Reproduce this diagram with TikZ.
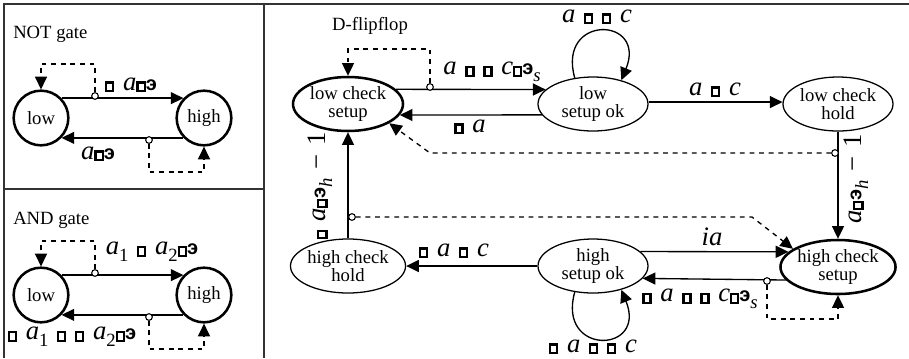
\documentclass[tikz,border=0pt]{standalone}
\usepackage{fontspec}
\setmainfont{Liberation Serif}
\newfontfamily\epsfont{Liberation Sans}
\usetikzlibrary{arrows.meta,shapes.geometric}
% hollow box glyph and reversed epsilon used in the guard labels
\newcommand\gbx{{\fboxsep=0pt\fboxrule=1.7pt\fbox{\rule{0pt}{4.9pt}\hspace{3.6pt}}}}
\newcommand\eps{{\epsfont\bfseries\fontsize{15}{15}\selectfont э}}
\newcommand\iv[1]{\textit{#1}}
\newcommand\sub[1]{\raisebox{-5pt}{\fontsize{14}{14}\selectfont #1}}
\newcommand\gap{\hspace{6.5pt}}
\tikzset{
  frame/.style={line width=1.1pt, draw=black!80},
  state/.style={circle, draw, line width=1.9pt, minimum size=41pt, inner sep=0pt,
    font=\fontsize{14}{13}\selectfont},
  thinst/.style={ellipse, draw, line width=0.95pt, minimum width=82.5pt, minimum height=40.5pt,
    inner sep=0pt, align=center, font=\fontsize{14}{13}\selectfont},
  thickst/.style={thinst, line width=1.9pt},
  tr/.style={line width=1pt, -{Triangle[length=9.5pt,width=9pt]}},
  guard/.style={tr, dash pattern=on 3.6pt off 3.6pt},
  probe/.style={circle, draw, fill=white, line width=0.8pt, minimum size=5pt, inner sep=0pt},
  lab/.style={inner sep=0pt, font=\fontsize{20}{20}\selectfont},
  title/.style={inner sep=0pt, font=\fontsize{14}{14}\selectfont},
}
\begin{document}
\begin{tikzpicture}[x=0.75pt,y=-0.75pt]
\useasboundingbox (0,0) rectangle (909,358);
% panel frames
\draw[frame] (4,358) -- (4,4) -- (909,4);
\draw[frame] (264,4) -- (264,358);
\draw[frame] (4,189) -- (264,189);

% ---------- NOT gate ----------
\node[title, anchor=west] (tnot) at (13,34) {NOT gate};
\node[state] (nlow) at (41,118) {low};
\node[state] (nhigh) at (204,118) {high};
\draw[tr] (nlow.44) -- (nhigh.136);
\draw[tr] (nhigh.-136) -- (nlow.-44);
\node[probe] (np1) at (95,96) {};
\node[probe] (np2) at (149,140) {};
\draw[guard] (np1.north) -- (np1.north |- 0,64) -| (nlow.north);
\draw[guard] (np2.south) -- (np2.south |- 0,172) -| (nhigh.south);
\node[lab] (nl1) at (131,85) {\gbx\gap\iv{a}\gbx\eps};
\node[lab] (nl2) at (98,154) {\iv{a}\gbx\eps};

% ---------- AND gate ----------
\node[title, anchor=west] (tand) at (13,220) {AND gate};
\node[state] (alow) at (41,295) {low};
\node[state] (ahigh) at (204,295) {high};
\draw[tr] (alow.44) -- (ahigh.136);
\draw[tr] (ahigh.-136) -- (alow.-44);
\node[probe] (ap1) at (95,273) {};
\node[probe] (ap2) at (149,317) {};
\draw[guard] (ap1.north) -- (ap1.north |- 0,241) -| (alow.north);
\draw[guard] (ap2.south) -- (ap2.south |- 0,349) -| (ahigh.south);
\node[lab] (al1) at (152,252) {\iv{a}\sub{1}\gap\gbx\gap\iv{a}\sub{2}\gbx\eps};
\node[lab] (al2) at (72,337) {\gbx\gap\iv{a}\sub{1}\gap\gbx\gap\gbx\gap\iv{a}\sub{2}\gbx\eps};

% ---------- D-flipflop ----------
\node[title] (tdff) at (370,26) {D-flipflop};
\node[thickst] (lcs) at (348,104) {low check\\setup};
\node[thinst] (lso) at (593,104) {low\\setup ok};
\node[thinst] (lch) at (838,104) {low check\\hold};
\node[thinst] (hch) at (348,266) {high check\\hold};
\node[thinst] (hso) at (593,266) {high\\setup ok};
\node[thickst] (hcs) at (838,267) {high check\\setup};

\draw[tr] (lcs.17) -- (lso.163);
\draw[tr] (lso.-168) -- (lcs.-12);
\draw[tr] (lso.2) -- (lch.178);
\draw[tr] (lch.south) -- (hcs.north);
\draw[tr] (hch.north) -- (lcs.south);
\draw[tr] (hso.17) -- (hcs.163);
\draw[tr] (hcs.-166) -- (hso.-14);
\draw[tr] (hso.west) -- (hch.east);
\draw[tr] (lso.125) .. controls +(-18,-64) and +(26,-64) .. (lso.40);
\draw[tr] (hso.-125) .. controls +(-18,64) and +(26,64) .. (hso.-40);

\node[probe] (p5) at (430,87) {};
\node[probe] (p6) at (835,153) {};
\node[probe] (p7) at (352,217) {};
\node[probe] (p8) at (767,281) {};
\coordinate (k1) at (430,153);
\coordinate (k2) at (752,217);
\draw[guard] (p5.north) -- (p5.north |- 0,49) -| (lcs.north);
\draw[guard] (p6.west) -- (k1) -- (lcs.-25);
\draw[guard] (p7.east) -- (k2) -- (hcs.158);
\draw[guard] (p8.south) -- (p8.south |- 0,319) -| (hcs.south);

\node[lab] (t1) at (492,72) {\iv{a}\gap\gbx\gap\gbx\gap\iv{c}\gbx\eps\sub{\iv{s}}};
\node[lab] (t2) at (470,127) {\gbx\gap\iv{a}};
\node[lab] (t3) at (597,17) {\iv{a}\gap\gbx\gap\gbx\gap\iv{c}};
\node[lab] (t4) at (715,90) {\iv{a}\gap\gbx\gap\iv{c}};
\node[lab, rotate=90] (t5) at (856,179) {\iv{a}\gbx\eps\sub{\iv{h}}\gap−\gap 1};
\node[lab, rotate=90] (t6) at (320,186) {\gbx\gap\iv{a}\gbx\eps\sub{\iv{h}}\gap−\gap 1};
\node[lab] (t7) at (712,237) {\iv{ia}};
\node[lab] (t8) at (700,299) {\gbx\gap\iv{a}\gap\gbx\gap\gbx\gap\iv{c}\gbx\eps\sub{\iv{s}}};
\node[lab] (t9) at (454,251) {\gbx\gap\iv{a}\gap\gbx\gap\iv{c}};
\node[lab] (t10) at (593,347) {\gbx\gap\iv{a}\gap\gbx\gap\gbx\gap\iv{c}};
\end{tikzpicture}
\end{document}
